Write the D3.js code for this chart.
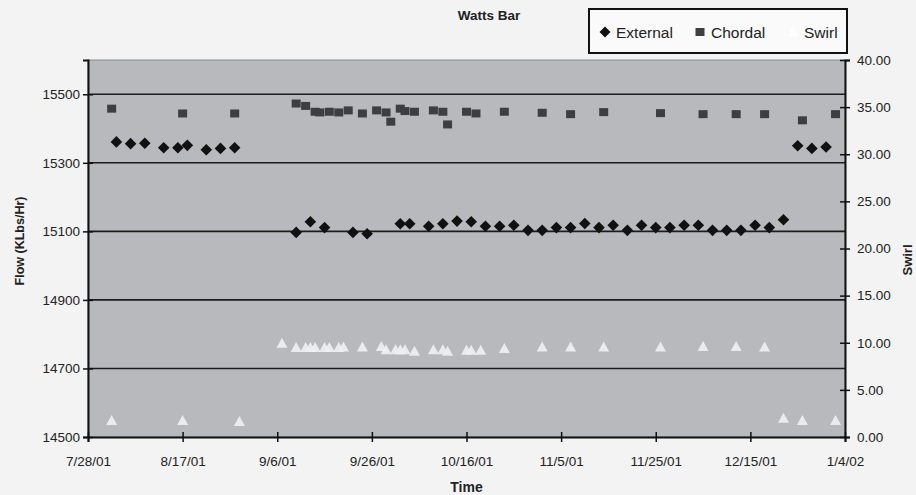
<!DOCTYPE html>
<html>
<head>
<meta charset="utf-8">
<script src="https://cdn.jsdelivr.net/npm/d3@7"></script>
<style>
body{margin:0;background:#f3f3f3;}
svg{font-family:"Liberation Sans",Arial,sans-serif;display:block;}
</style>
</head>
<body>
<div id="chart"></div>
<script>
// data
var xTicks=["7/28/01","8/17/01","9/6/01","9/26/01","10/16/01","11/5/01","11/25/01","12/15/01","1/4/02"];
var flowTicks=[14500,14700,14900,15100,15300,15500];
var swirlTicks=[0,5,10,15,20,25,30,35,40];

var externalDates=["8/3/01","8/6/01","8/9/01","8/13/01","8/16/01","8/18/01","8/22/01","8/25/01","8/28/01",
  "9/10/01","9/13/01","9/16/01","9/22/01","9/25/01","10/2/01","10/4/01","10/8/01","10/11/01","10/14/01",
  "10/17/01","10/20/01","10/23/01","10/26/01","10/29/01","11/1/01","11/4/01","11/7/01","11/10/01","11/13/01",
  "11/16/01","11/19/01","11/22/01","11/25/01","11/28/01","12/1/01","12/4/01","12/7/01","12/10/01","12/13/01",
  "12/16/01","12/19/01","12/22/01","12/25/01","12/28/01","12/31/01"];
var externalFlow=[15361,15356,15357,15344,15344,15351,15338,15342,15344,
  15097,15128,15111,15097,15093,15122,15122,15115,15122,15130,
  15128,15115,15115,15118,15103,15103,15111,15111,15123,15111,
  15118,15103,15118,15111,15111,15118,15118,15103,15103,15103,
  15118,15111,15134,15350,15342,15346];

var chordalDates=["8/2/01","8/17/01","8/28/01",
  "9/10/01","9/12/01","9/14/01","9/15/01","9/17/01","9/19/01","9/21/01","9/24/01","9/27/01","9/29/01",
  "9/30/01","10/2/01","10/3/01","10/5/01","10/9/01","10/11/01","10/12/01","10/16/01","10/18/01","10/24/01",
  "11/1/01","11/7/01","11/14/01","11/26/01","12/5/01","12/12/01","12/18/01","12/26/01","1/2/02"];
var chordalFlow=[15458,15444,15444,
  15473,15466,15449,15447,15449,15447,15453,15444,15453,15447,
  15420,15458,15451,15449,15453,15449,15412,15449,15444,15449,
  15446,15442,15448,15445,15442,15442,15442,15424,15442];

var swirlDates=["8/2/01","8/17/01","8/29/01",
  "9/7/01","9/10/01","9/12/01","9/13/01","9/14/01","9/16/01","9/17/01","9/19/01","9/20/01",
  "9/24/01","9/28/01","9/29/01","10/1/01","10/2/01","10/3/01","10/5/01",
  "10/9/01","10/11/01","10/12/01","10/16/01","10/17/01","10/19/01","10/24/01",
  "11/1/01","11/7/01","11/14/01","11/26/01","12/5/01","12/12/01","12/18/01",
  "12/22/01","12/26/01","1/2/02"];
var swirlValues=[1.75,1.75,1.65,
  9.95,9.5,9.5,9.5,9.5,9.5,9.5,9.5,9.55,
  9.55,9.6,9.25,9.25,9.25,9.25,9.1,
  9.25,9.25,9.1,9.2,9.2,9.2,9.4,
  9.55,9.55,9.55,9.55,9.6,9.6,9.55,
  2.0,1.75,1.75];

var w=916;
var h=495;
var pLeft=88,pRight=845,pTop=60,pBottom=437;
var parseDate=d3.timeParse("%m/%d/%y");

var svg=d3.select("#chart")
  .append("svg")
  .attr("width",w)
  .attr("height",h);

var x=d3.scaleTime()
  .domain([parseDate("7/28/01"),parseDate("1/4/02")])
  .range([pLeft,pRight]);
var yFlow=d3.scaleLinear().domain([14500,15600]).range([pBottom,pTop]);
var ySwirl=d3.scaleLinear().domain([0,40]).range([pBottom,pTop]);

// plot area
svg.append("rect")
  .attr("x",pLeft).attr("y",pTop)
  .attr("width",pRight-pLeft).attr("height",pBottom-pTop)
  .attr("fill","#b7b9bd")
  .attr("stroke","#8a8a8a")
  .attr("stroke-width",1);

// gridlines
svg.selectAll("line.grid")
  .data(flowTicks.slice(1))
  .enter()
  .append("line")
  .attr("class","grid")
  .attr("x1",pLeft).attr("x2",pRight)
  .attr("y1",function(d){return yFlow(d);})
  .attr("y2",function(d){return yFlow(d);})
  .style("stroke","#1c1c1c")
  .style("stroke-width",1.6);

function diamond(r){return "M0,"+(-r)+"L"+r+",0L0,"+r+"L"+(-r)+",0Z";}
var square="M-4.5,-4L4.5,-4L4.5,4L-4.5,4Z";
var triangle="M0,-5.5L5.5,4.5L-5.5,4.5Z";

var ext=externalDates.map(function(d,i){return {date:parseDate(d),v:externalFlow[i]};});
var cho=chordalDates.map(function(d,i){return {date:parseDate(d),v:chordalFlow[i]};});
var swi=swirlDates.map(function(d,i){return {date:parseDate(d),v:swirlValues[i]};});

svg.selectAll("path.ext")
  .data(ext)
  .enter()
  .append("path")
  .attr("class","ext")
  .attr("d",diamond(5.8))
  .attr("transform",function(d){return "translate("+x(d.date)+","+yFlow(d.v)+")";})
  .attr("fill","#111");

svg.selectAll("path.cho")
  .data(cho)
  .enter()
  .append("path")
  .attr("class","cho")
  .attr("d",square)
  .attr("transform",function(d){return "translate("+x(d.date)+","+yFlow(d.v)+")";})
  .attr("fill","#3c3e40");

svg.selectAll("path.swi")
  .data(swi)
  .enter()
  .append("path")
  .attr("class","swi")
  .attr("d",triangle)
  .attr("transform",function(d){return "translate("+x(d.date)+","+ySwirl(d.v)+")";})
  .attr("fill","#eef1f3")
  .attr("opacity",0.9);

// axes
var fmt=d3.timeFormat("%-m/%-d/%y");
var xAxis=svg.append("g")
  .attr("transform","translate(0,"+pBottom+")")
  .call(d3.axisBottom(x).tickValues(xTicks.map(parseDate)).tickFormat(fmt).tickSizeOuter(0).tickSize(5).tickPadding(14));
var yAxisL=svg.append("g")
  .attr("transform","translate("+pLeft+",0)")
  .call(d3.axisLeft(yFlow).tickValues(flowTicks).tickFormat(d3.format("d")).tickSizeOuter(0).tickSize(5).tickPadding(3));
var yAxisR=svg.append("g")
  .attr("transform","translate("+pRight+",0)")
  .call(d3.axisRight(ySwirl).tickValues(swirlTicks).tickFormat(d3.format(".2f")).tickSizeOuter(0).tickSize(5).tickPadding(7));

[xAxis,yAxisL,yAxisR].forEach(function(a){
  a.select(".domain").style("stroke","#111").style("stroke-width",2);
  a.selectAll(".tick line").style("stroke","#111").style("stroke-width",1.5);
  a.selectAll("text").style("font-size","13.5px").style("fill","#222").style("font-family","'Liberation Sans',Arial,sans-serif");
});
xAxis.selectAll(".tick line").attr("y1",-5).attr("y2",5);
yAxisL.selectAll(".tick line").attr("x1",5).attr("x2",-5);
yAxisR.selectAll(".tick line").attr("x1",-5).attr("x2",5);

// titles
svg.append("text")
  .attr("x",489).attr("y",20)
  .attr("text-anchor","middle")
  .style("font-size","13.5px").style("font-weight","bold").style("fill","#222")
  .text("Watts Bar");
svg.append("text")
  .attr("x",(pLeft+pRight)/2).attr("y",492)
  .attr("text-anchor","middle")
  .style("font-size","14px").style("font-weight","bold").style("fill","#222")
  .text("Time");
svg.append("text")
  .attr("transform","translate(24,241) rotate(-90)")
  .attr("text-anchor","middle")
  .style("font-size","12.5px").style("font-weight","bold").style("fill","#222")
  .text("Flow (KLbs/Hr)");
svg.append("text")
  .attr("transform","translate(912,260) rotate(-90)")
  .attr("text-anchor","middle")
  .style("font-size","13px").style("font-weight","bold").style("fill","#222")
  .text("Swirl");

// legend
var legend=svg.append("g");
legend.append("rect")
  .attr("x",589).attr("y",9).attr("width",258).attr("height",44)
  .attr("fill","#fafafa").attr("stroke","#111").attr("stroke-width",2);
var legendItems=[
  {name:"External",mx:605,tx:616,shape:diamond(5.5),fill:"#111"},
  {name:"Chordal",mx:700,tx:711,shape:square,fill:"#3c3e40"},
  {name:"Swirl",mx:793,tx:804,shape:triangle,fill:"#ffffff"}
];
legend.selectAll("path")
  .data(legendItems)
  .enter()
  .append("path")
  .attr("d",function(d){return d.shape;})
  .attr("transform",function(d){return "translate("+d.mx+",32)";})
  .attr("fill",function(d){return d.fill;});
legend.selectAll("text")
  .data(legendItems)
  .enter()
  .append("text")
  .attr("x",function(d){return d.tx;})
  .attr("y",38)
  .style("font-size","15.5px").style("fill","#222")
  .text(function(d){return d.name;});
</script>
</body>
</html>
